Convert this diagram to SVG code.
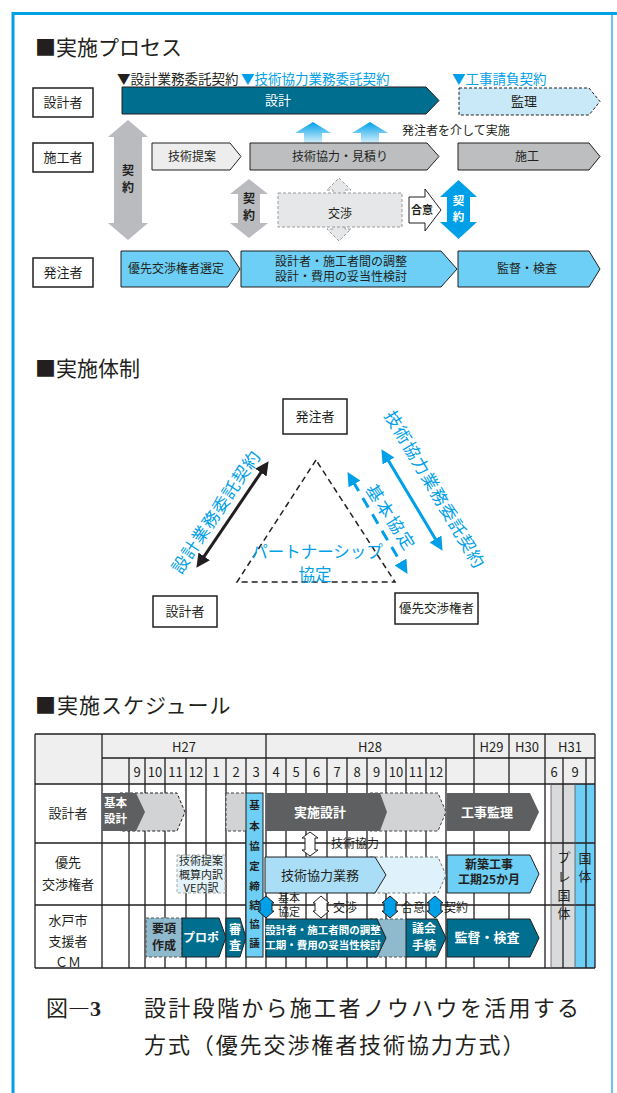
<svg xmlns="http://www.w3.org/2000/svg" width="617" height="1093" viewBox="0 0 617 1093">
<style>
text{font-family:"Noto Sans CJK JP","Noto Sans",sans-serif;fill:#231f20}
.m{text-anchor:middle}
.w{fill:#fff}
.b{font-weight:bold}
.bl{fill:#00a0e9}
.box{fill:#fff;stroke:#231f20;stroke-width:1.5}
.ar{stroke:#231f20;stroke-width:1}
.dash{stroke-dasharray:3 2}
.teal{fill:#006e8f}
.sky{fill:#6dcff6}
.dg{fill:#5e5f61}
.lg{fill:#d1d3d4}
.gr{fill:#bcbec0}
.ttl{font-size:21px}
.s13{font-size:13px}
.s12{font-size:12px}
.s11{font-size:11px}
</style>
<defs>
<linearGradient id="upg" x1="0" y1="0" x2="0" y2="1">
<stop offset="0" stop-color="#00a0e9"/><stop offset="1" stop-color="#d6f0fb"/>
</linearGradient>
<marker id="mk" viewBox="0 0 10 10" refX="2" refY="5" markerWidth="4.6" markerHeight="4.6" orient="auto-start-reverse" markerUnits="strokeWidth"><path d="M0,0L10,5L0,10z" fill="#231f20"/></marker>
<marker id="mb" viewBox="0 0 10 10" refX="2" refY="5" markerWidth="4.6" markerHeight="4.6" orient="auto-start-reverse" markerUnits="strokeWidth"><path d="M0,0L10,5L0,10z" fill="#00a0e9"/></marker>
</defs>
<rect width="617" height="1093" fill="#fff"/>
<!-- frame -->
<g id="frame" fill="none" stroke="#00a0e9">
<path d="M13,1093V13.5H617" stroke-width="3"/>
<path d="M612,14V1093" stroke-width="1.2"/>
</g>

<!-- ===== Section 1 ===== -->
<text x="35" y="55" class="ttl">■実施プロセス</text>
<g id="contracts">
<text x="117" y="84" style="font-size:13.5px">▼設計業務委託契約</text>
<text x="241" y="84" class="bl" style="font-size:13.5px">▼技術協力業務委託契約</text>
<text x="452" y="84" class="bl" style="font-size:13.5px">▼工事請負契約</text>
</g>
<g id="lbl-sekkei"><rect class="box" x="33" y="88" width="60" height="29"/><text x="63" y="107" class="m s13">設計者</text></g>
<g id="lbl-seko"><rect class="box" x="33" y="143" width="60" height="29"/><text x="63" y="162" class="m s13">施工者</text></g>
<g id="lbl-hachu"><rect class="box" x="33" y="258" width="60" height="29"/><text x="63" y="277" class="m s13">発注者</text></g>

<g id="connectors1">
<polygon points="313,122 331,133 322,133 322,143 304,143 304,133 295,133" fill="url(#upg)"/>
<polygon points="370,122 388,133 379,133 379,143 361,143 361,133 352,133" fill="url(#upg)"/>
</g>

<g id="bar-sekkei"><polygon class="teal ar" points="122,87 426,87 439,100.5 426,114 122,114"/><text x="278" y="105" class="m s13 w">設計</text></g>
<g id="bar-kanri"><polygon class="ar dash" fill="#c9e9f8" stroke="#555" points="459,88 589,88 600,101.5 589,115 459,115"/><text x="524" y="106" class="m s13">監理</text></g>
<text x="402" y="135" class="s12">発注者を介して実施</text>

<g id="bar-teian"><polygon class="ar" fill="#ededee" points="152,143 230,143 241,156.5 230,170 152,170"/><text x="192" y="161" class="m s12">技術提案</text></g>
<g id="bar-kyoryoku"><polygon class="ar gr" points="250,143 427,143 439,156.5 427,170 250,170"/><text x="340" y="161" class="m s12">技術協力・見積り</text></g>
<g id="bar-seko"><polygon class="ar gr" points="458,143 589,143 600,156.5 589,170 458,170"/><text x="527" y="161" class="m s12">施工</text></g>

<g id="arrow-keiyaku1"><polygon fill="#b9bbbe" points="128,120 148,137 142,137 142,223 148,223 128,240 108,223 114,223 114,137 108,137"/>
<text x="128" y="175" class="m b s12">契</text><text x="128" y="192" class="m b s12">約</text></g>
<g id="arrow-keiyaku2"><polygon fill="#b9bbbe" points="249,179 268,194 260,194 260,223 268,223 249,238 230,223 238,223 238,194 230,194"/>
<text x="249" y="203" class="m b s12">契</text><text x="249" y="220" class="m b s12">約</text></g>
<g id="kosho">
<polygon fill="#e6e7e8" stroke="#999" stroke-dasharray="3 2" points="339,178 351,190 345,190 345,229 351,229 339,241 327,229 333,229 333,190 327,190"/>
<rect x="278" y="193" width="124" height="34" fill="#e6e7e8" stroke="#999" stroke-dasharray="3 2"/>
<text x="340" y="218" class="m s12">交渉</text></g>
<g id="goi"><polygon fill="#fff" class="ar" points="409,197 425,197 425,189 441,210 425,231 425,223 409,223"/><text x="422" y="214" class="m s11 b">合意</text></g>
<g id="arrow-keiyaku3"><polygon fill="#00a0e9" points="458.5,180 477,197 470,197 470,222 477,222 458.5,239 440,222 447,222 447,197 440,197"/>
<text x="458.5" y="205" class="m b w" style="font-size:11.5px">契</text><text x="458.5" y="221" class="m b w" style="font-size:11.5px">約</text></g>

<g id="bar-sentei"><polygon class="ar sky" points="121,251 228,251 240,269 228,287 121,287"/><text x="176" y="273" class="m s12">優先交渉権者選定</text></g>
<g id="bar-chosei"><polygon class="ar sky" points="241,251 441,251 457,269 441,287 241,287"/><text x="341" y="266" class="m s12">設計者・施工者間の調整</text><text x="341" y="281" class="m s12">設計・費用の妥当性検討</text></g>
<g id="bar-kantoku"><polygon class="ar sky" points="458,251 589,251 600,269 589,287 458,287"/><text x="527" y="273" class="m s12">監督・検査</text></g>

<!-- ===== Section 2 ===== -->
<text x="35" y="376" class="ttl">■実施体制</text>
<g id="n-hachu"><rect class="box" x="283" y="399" width="64" height="35"/><text x="315" y="421" class="m s13">発注者</text></g>
<g id="n-sekkei"><rect class="box" x="153" y="596" width="64" height="31"/><text x="185" y="616" class="m s13">設計者</text></g>
<g id="n-yusen"><rect class="box" x="395" y="593" width="83" height="31"/><text x="436.5" y="613" class="m" style="font-size:12.5px">優先交渉権者</text></g>
<g id="connectors2">
<polygon points="316,460 237,582 395,582" fill="none" stroke="#231f20" stroke-width="1.5" stroke-dasharray="6 4"/>
<line x1="202.6" y1="558.7" x2="262.4" y2="470.3" stroke="#231f20" stroke-width="3" marker-start="url(#mk)" marker-end="url(#mk)"/>
<line x1="387.1" y1="458.6" x2="436.9" y2="541.4" stroke="#00a0e9" stroke-width="3" marker-start="url(#mb)" marker-end="url(#mb)"/>
<line x1="353.1" y1="481.6" x2="401.9" y2="564.4" stroke="#00a0e9" stroke-width="3" stroke-dasharray="11 8" marker-start="url(#mb)" marker-end="url(#mb)"/>
</g>
<text transform="translate(215,511) rotate(-56)" class="m bl" dominant-baseline="central" style="font-size:17px;letter-spacing:1px">設計業務委託契約</text>
<text transform="translate(436,489) rotate(59.5)" class="m bl" dominant-baseline="central" style="font-size:17px;letter-spacing:1px">技術協力業務委託契約</text>
<text transform="translate(392,517) rotate(57)" class="m bl" dominant-baseline="central" style="font-size:17px;letter-spacing:2px">基本協定</text>
<text x="317" y="558" class="m bl" style="font-size:16.5px">パートナーシップ</text>
<text x="315" y="581" class="m bl" style="font-size:16.5px">協定</text>

<!-- ===== Section 3 ===== -->
<text x="35" y="713" class="ttl" style="letter-spacing:1px">■実施スケジュール</text>
<g id="table">
<rect x="35" y="734" width="560" height="50" fill="#efefef"/>
<rect x="551" y="784" width="24" height="184" fill="#d9dadb"/>
<rect x="575" y="784" width="20" height="184" fill="#6dcff6"/>
<path fill="none" stroke="#231f20" stroke-width="1.3" d="M35,734H595M102,758H595M35,784H595M35,843H595M35,905H595M35,968H595
M35,734V968M102,734V968M266,734V968M474,734V968M509,734V968M545,734V968M595,734V968
M129,758V968M145,758V968M165,758V968M186,758V968M206,758V968M226,758V968M246,758V968M286,758V968M306,758V968M327,758V968M347,758V968M367,758V968M386,758V968M406,758V968M426,758V968M446,758V968M563,758V968M586,758V968"/>
<path d="M551,784V968M575,784V968" stroke="#555" stroke-width="0.8"/>
<text x="184" y="752" class="m s13">H27</text>
<text x="370" y="752" class="m s13">H28</text>
<text x="491.5" y="752" class="m s13">H29</text>
<text x="527" y="752" class="m s13">H30</text>
<text x="570" y="752" class="m s13">H31</text>
<text x="137" y="777" class="m s13">9</text><text x="155" y="777" class="m s13">10</text><text x="175.5" y="777" class="m s13">11</text><text x="196" y="777" class="m s13">12</text><text x="216" y="777" class="m s13">1</text><text x="236" y="777" class="m s13">2</text><text x="256" y="777" class="m s13">3</text><text x="276" y="777" class="m s13">4</text><text x="296" y="777" class="m s13">5</text><text x="316.5" y="777" class="m s13">6</text><text x="337" y="777" class="m s13">7</text><text x="357" y="777" class="m s13">8</text><text x="376.5" y="777" class="m s13">9</text><text x="396" y="777" class="m s13">10</text><text x="416" y="777" class="m s13">11</text><text x="436" y="777" class="m s13">12</text><text x="554" y="777" class="m s13">6</text><text x="575" y="777" class="m s13">9</text>
<text x="68" y="818" class="m s13">設計者</text>
<text x="68" y="867" class="m s13">優先</text>
<text x="68" y="889" class="m s13">交渉権者</text>
<text x="68" y="925" class="m s13">水戸市</text>
<text x="68" y="946" class="m s13">支援者</text>
<text x="68" y="967" class="m s13">ＣＭ</text>
<g style="fill:#444">
<text x="564" y="862" class="m s13">プ</text><text x="564" y="881" class="m s13">レ</text><text x="564" y="900" class="m s13">国</text><text x="564" y="918" class="m s13">体</text>
<text x="585" y="863" class="m s13">国</text><text x="585" y="881" class="m s13">体</text>
</g>
</g>

<g id="s-kihonsekkei">
<polygon class="lg ar" stroke="#444" stroke-dasharray="3 2" points="120,793 177,793 185,812 177,831 120,831"/>
<polygon class="dg" points="102,793 136,793 145,812 136,831 102,831"/>
<text x="104" y="807" class="b w" style="font-size:11.5px">基本</text><text x="104" y="823" class="b w" style="font-size:11.5px">設計</text>
</g>
<rect id="s-dashrect" x="226" y="793" width="21" height="38" class="lg" stroke="#444" stroke-dasharray="3 2"/>
<g id="s-jisshi">
<polygon class="lg" stroke="#444" stroke-dasharray="3 2" points="370,793 438,793 446,812 438,831 370,831"/>
<polygon class="dg" points="266,793 380,793 387,812 380,831 266,831"/>
<text x="320" y="817" class="m s13 b w">実施設計</text>
</g>
<g id="s-kanri"><polygon class="dg" points="447,793 530,793 539,812 530,831 447,831"/><text x="487" y="817" class="m s13 b w">工事監理</text></g>

<g id="s-teian"><rect x="177" y="855" width="48" height="38" fill="#e4f3fb" stroke="#aaa" stroke-dasharray="3 2"/>
<text x="201" y="865" class="m s11">技術提案</text><text x="201" y="878.5" class="m s11">概算内訳</text><text x="201" y="892" class="m s11">VE内訳</text></g>
<g id="s-kyoryoku">
<polygon fill="#dff2fb" stroke="#777" stroke-dasharray="3 2" points="370,857 438,857 446,875 438,893 370,893"/>
<polygon fill="#a9def6" class="ar" points="265,857 375,857 386,875 375,893 265,893"/>
<text x="320" y="880" class="m s13">技術協力業務</text></g>
<g id="s-shinchiku"><polygon class="sky ar" points="447,855 530,855 539,874 530,893 447,893"/>
<text x="489" y="869" class="m s12 b">新築工事</text><text x="489" y="884" class="m s12 b">工期25か月</text></g>
<g id="s-gijutsu-arrow"><polygon fill="#fff" class="ar" points="310,832 318,838 315,838 315,850 318,850 310,856 302,850 305,850 305,838 302,838"/>
<text x="331" y="848" class="s12">技術協力</text></g>

<g id="s-yoko"><rect x="146" y="918" width="36" height="39" fill="#8fbace" stroke="#555" stroke-dasharray="3 2"/>
<text x="164" y="933" class="m s12 b">要項</text><text x="164" y="950" class="m s12 b">作成</text></g>
<g id="s-propo"><polygon class="teal ar" points="182,918 219,918 226,937.5 219,957 182,957"/><text x="201" y="942" class="m s12 b w">プロポ</text></g>
<g id="s-shinsa"><polygon class="teal ar" points="226,918 240,918 246,937.5 240,957 226,957"/><text x="235" y="934" class="m s12 b w">審</text><text x="235" y="950" class="m s12 b w">査</text></g>
<g id="s-kihonkyotei"><rect x="246" y="793" width="17" height="164" class="sky ar"/>
<text x="254.5" y="809" class="m b" style="font-size:10.5px">基</text><text x="254.5" y="830" class="m b" style="font-size:10.5px">本</text><text x="254.5" y="850" class="m b" style="font-size:10.5px">協</text><text x="254.5" y="870" class="m b" style="font-size:10.5px">定</text><text x="254.5" y="890" class="m b" style="font-size:10.5px">締</text><text x="254.5" y="909" class="m b" style="font-size:10.5px">結</text><text x="254.5" y="928" class="m b" style="font-size:10.5px">協</text><text x="254.5" y="947" class="m b" style="font-size:10.5px">議</text>
</g>
<g id="s-chosei">
<rect x="370" y="919" width="37" height="38" fill="#8fbace" stroke="#555" stroke-dasharray="3 2"/>
<polygon class="teal ar" points="266,919 377,919 386,938 377,957 266,957"/>
<text x="323" y="934" class="m b w" style="font-size:10.5px">設計者・施工者間の調整</text><text x="323" y="949" class="m b w" style="font-size:10.5px">工期・費用の妥当性検討</text></g>
<g id="s-gikai"><polygon class="teal ar" points="406,919 437,919 446,938 437,957 406,957"/><text x="424" y="933" class="m s12 b w">議会</text><text x="424" y="950" class="m s12 b w">手続</text></g>
<g id="s-kantoku"><polygon class="teal ar" points="447,919 530,919 539,938 530,957 447,957"/><text x="487" y="942" class="m s13 b w">監督・検査</text></g>

<g id="s-hex">
<polygon fill="#00a0e9" class="ar" points="266,896 274,903 272,903 272,911 274,911 266,918 258,911 260,911 260,903 258,903"/>
<polygon fill="#fff" class="ar" points="321,896 329,903 327,903 327,911 329,911 321,918 313,911 315,911 315,903 313,903"/>
<polygon fill="#00a0e9" class="ar" points="390,896 398,903 396,903 396,911 398,911 390,918 382,911 384,911 384,903 382,903"/>
<polygon fill="#00a0e9" class="ar" points="435,896 443,903 441,903 441,911 443,911 435,918 427,911 429,911 429,903 427,903"/>
<text x="278" y="902" class="s11">基本</text><text x="278" y="916" class="s11">協定</text>
<text x="333" y="912" class="s12">交渉</text>
<text x="401" y="912" class="s12">合意</text>
<text x="444" y="912" class="s12">契約</text>
</g>

<!-- caption -->
<g id="caption">
<text x="46" y="1016" style="font-size:22px">図―<tspan font-family="Liberation Serif" font-weight="bold">3</tspan></text>
<text x="144" y="1016" style="font-size:22px;letter-spacing:2.3px">設計段階から施工者ノウハウを活用する</text>
<text x="144" y="1053" style="font-size:22px;letter-spacing:1.9px">方式（優先交渉権者技術協力方式）</text>
</g>
</svg>
